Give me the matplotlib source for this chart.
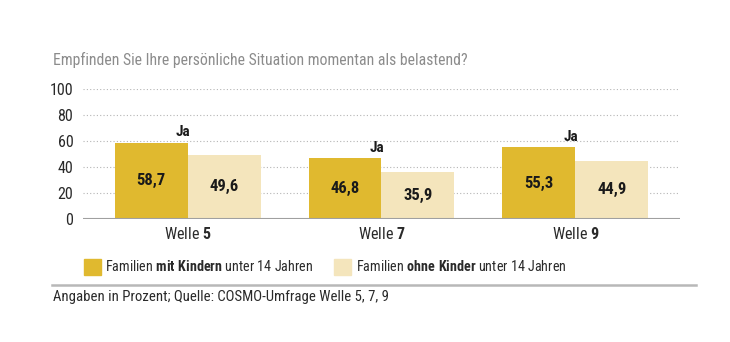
import numpy as np
import matplotlib.pyplot as plt
from matplotlib.patches import Patch
from matplotlib.lines import Line2D

plt.rcParams['font.family'] = ['Roboto Condensed', 'DejaVu Sans']
plt.rcParams['mathtext.fontset'] = 'custom'
plt.rcParams['mathtext.rm'] = 'Roboto Condensed'
plt.rcParams['mathtext.bf'] = 'Roboto Condensed:bold'

# values
waves = ['5', '7', '9']
mit_kindern = [58.7, 46.8, 55.3]
ohne_kinder = [49.6, 35.9, 44.9]
yticks = [0, 20, 40, 60, 80, 100]

dark = '#E0B92F'
light = '#F4E5BC'
gray_txt = '#8C8C8C'
txt = '#2a2a2a'

fig = plt.figure(figsize=(7.3, 3.42), dpi=100)
ax = fig.add_axes([0.1137, 0.3596, 0.8178, 0.3802])

x = np.arange(len(waves))
w = 0.376
ax.bar(x - w / 2, mit_kindern, w, color=dark, zorder=3)
ax.bar(x + w / 2, ohne_kinder, w, color=light, zorder=3)

for xi, v in zip(x - w / 2, mit_kindern):
    ax.text(xi, v / 2, f'{v:.1f}'.replace('.', ','), ha='center', va='center',
            fontsize=12, fontweight='bold', color='#1a1a1a', zorder=4)
    ax.annotate('Ja', (xi + w / 2 - 0.025, v), xytext=(0, 2.5), textcoords='offset points',
                ha='center', va='bottom', fontsize=11, fontweight='bold', color='#1a1a1a')
for xi, v in zip(x + w / 2, ohne_kinder):
    ax.text(xi, v / 2, f'{v:.1f}'.replace('.', ','), ha='center', va='center',
            fontsize=12, fontweight='bold', color='#1a1a1a', zorder=4)

ax.set_xlim(-0.54, 2.54)
ax.set_ylim(0, 100)
ax.set_yticks(yticks)
ax.set_yticklabels([str(t) for t in yticks], fontsize=11.5, color=txt)
ax.set_xticks(x)
ax.set_xticklabels([r'Welle $\mathbf{' + wv + '}$' for wv in waves], fontsize=11.5, color=txt)
ax.tick_params(axis='y', length=0, pad=7)
ax.tick_params(axis='x', length=0, pad=5)

for t in yticks[1:]:
    ax.axhline(t, color='#b5b5b5', lw=0.8, ls=(0, (1, 2)), zorder=1)
ax.axhline(0, color='#a0a0a0', lw=1.5, zorder=4)
for s in ax.spines.values():
    s.set_visible(False)

fig.text(0.072, 0.825, 'Empfinden Sie Ihre persönliche Situation momentan als belastend?',
         fontsize=11.3, color=gray_txt, va='center')

handles = [Patch(color=dark), Patch(color=light)]
labels = [r'Familien $\mathbf{mit\;Kindern}$ unter 14 Jahren',
          r'Familien $\mathbf{ohne\;Kinder}$ unter 14 Jahren']
fig.legend(handles, labels, loc='center left', bbox_to_anchor=(0.097, 0.22), ncol=2,
           frameon=False, fontsize=10.2, handlelength=1.2, handleheight=1.35,
           handletextpad=0.3, columnspacing=1.5, labelcolor=txt)

fig.add_artist(Line2D([0.071, 0.953], [0.168, 0.168], transform=fig.transFigure,
                      color='#b8b8b8', lw=1.8))
fig.text(0.072, 0.132, 'Angaben in Prozent; Quelle: COSMO-Umfrage Welle 5, 7, 9',
         fontsize=10.6, color=txt, va='center')

fig.savefig('out.png', dpi=100)
